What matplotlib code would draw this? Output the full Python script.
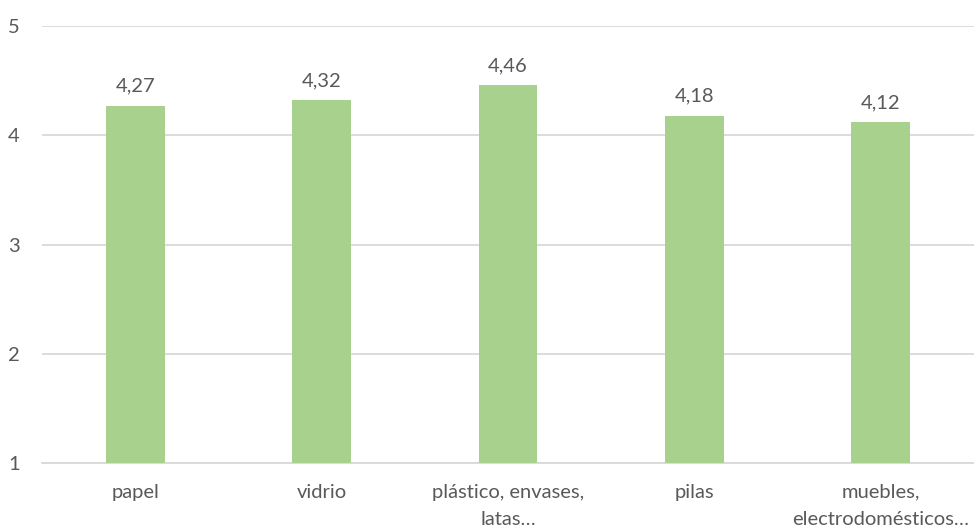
import matplotlib
matplotlib.use('Agg')
import matplotlib.pyplot as plt

categories = ['papel', 'vidrio', 'plástico, envases,\nlatas…', 'pilas',
              'muebles,\nelectrodomésticos…']
scores = [4.27, 4.32, 4.46, 4.18, 4.12]
yticks = [1, 2, 3, 4, 5]

plt.rcParams['font.family'] = ['Lato', 'DejaVu Sans']
txt = '#595959'
fs = 14.5

fig = plt.figure(figsize=(9.74, 5.28), dpi=100)
ax = fig.add_axes([42/974, 65/528, 932/974, 437/528])

x = range(len(categories))
ax.bar(x, [s - 1 for s in scores], bottom=1, width=0.316, color='#A9D18E', zorder=3)
for i, s in enumerate(scores):
    ax.text(i, s + 0.1, f'{s:.2f}'.replace('.', ','), ha='center', va='bottom',
            fontsize=fs, color=txt)

ax.set_xlim(-0.5, len(categories) - 0.5)
ax.set_ylim(1, 5)
ax.set_yticks(yticks)
ax.set_yticklabels([str(t) for t in yticks])
ax.set_xticks(list(x))
ax.set_xticklabels(categories, linespacing=1.75)
ax.tick_params(axis='both', length=0, colors=txt, labelsize=fs)
ax.tick_params(axis='x', pad=15)
ax.tick_params(axis='y', pad=16)
ax.grid(axis='y', color='#D9D9D9', linewidth=1.3, zorder=0)
for side in ['top', 'right', 'left']:
    ax.spines[side].set_visible(False)
ax.spines['bottom'].set_color('#D9D9D9')
ax.spines['bottom'].set_linewidth(1.3)

fig.savefig('out.png', dpi=100)
